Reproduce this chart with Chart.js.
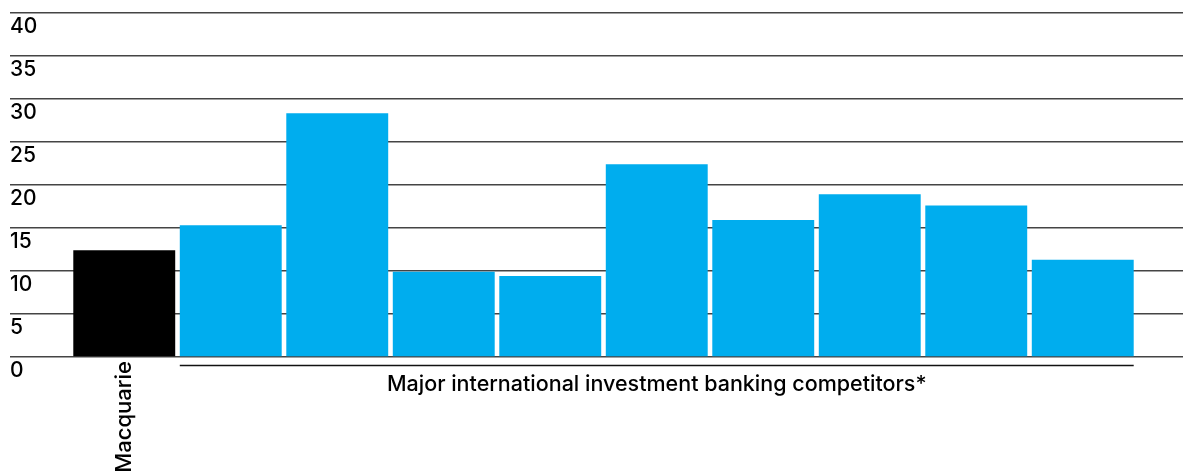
<!DOCTYPE html>
<html>
<head>
<meta charset="utf-8">
<script src="https://cdn.jsdelivr.net/npm/chart.js@4/dist/chart.umd.min.js"></script>
<style>
  html, body { margin: 0; padding: 0; background: #fff; }
  #wrap { width: 1183px; height: 473px; }
</style>
</head>
<body>
<div id="wrap"><canvas id="chart"></canvas></div>
<script>
// ===== DATA =====
const categories = ['Macquarie', '', '', '', '', '', '', '', '', ''];
const values = [12.4, 15.3, 28.3, 9.9, 9.4, 22.4, 15.9, 18.9, 17.6, 11.3];
const groupLabel = 'Major international investment banking competitors*';
const yTicks = [0, 5, 10, 15, 20, 25, 30, 35, 40];

// ===== STYLE =====
const FONT = 'Inter, "Liberation Sans", Arial, sans-serif';
const GRID = '#444';
const BLUE = '#00adee';

// ===== GROUP BRACKET + LABEL =====
const groupPlugin = {
  id: 'group',
  afterDraw(chart) {
    const ctx = chart.ctx;
    const bars = chart.getDatasetMeta(0).data;
    const first = bars[1], last = bars[bars.length - 1];
    const x1 = first.x - first.width / 2;
    const x2 = last.x + last.width / 2;
    const y = chart.scales.y.getPixelForValue(0) + 8.5;
    ctx.save();
    ctx.strokeStyle = '#111';
    ctx.lineWidth = 1.3;
    ctx.beginPath();
    ctx.moveTo(x1, y);
    ctx.lineTo(x2, y);
    ctx.stroke();
    ctx.fillStyle = '#000';
    ctx.font = '500 21.5px ' + FONT;
    ctx.textAlign = 'center';
    ctx.textBaseline = 'top';
    ctx.fillText(groupLabel, (x1 + x2) / 2, y + 8);
    ctx.restore();
  }
};

new Chart(document.getElementById('chart'), {
  type: 'bar',
  data: {
    labels: categories,
    datasets: [{
      data: values,
      backgroundColor: values.map((v, i) => i === 0 ? '#000000' : BLUE),
      borderWidth: 0,
      barPercentage: 0.957,
      categoryPercentage: 1
    }]
  },
  options: {
    responsive: true,
    maintainAspectRatio: false,
    animation: false,
    layout: { padding: { left: 10, right: 0, top: 12, bottom: 0 } },
    plugins: { legend: { display: false }, tooltip: { enabled: false } },
    scales: {
      x: {
        grid: { display: false, drawTicks: false },
        border: { display: false },
        ticks: {
          color: '#000',
          font: { family: FONT, size: 22, weight: 500 },
          minRotation: 90,
          maxRotation: 90,
          padding: 4,
          autoSkip: false
        },
        afterFit(scale) { scale.height = 116; }
      },
      y: {
        min: 0,
        max: 40,
        afterBuildTicks(scale) { scale.ticks = yTicks.map(v => ({ value: v })); },
        grid: { color: GRID, lineWidth: 1.5, tickLength: 61, drawTicks: true },
        border: { display: false },
        ticks: {
          color: '#000',
          font: { family: FONT, size: 21, weight: 500 },
          crossAlign: 'far',
          labelOffset: 14,
          padding: 0
        },
        afterFit(scale) { scale.width = 61; }
      },
      y2: {
        position: 'right',
        min: 0,
        max: 40,
        afterBuildTicks(scale) { scale.ticks = yTicks.map(v => ({ value: v })); },
        grid: { color: GRID, lineWidth: 1.5, tickLength: 47, drawOnChartArea: false },
        border: { display: false },
        ticks: { display: false },
        afterFit(scale) { scale.width = 47; }
      }
    }
  },
  plugins: [groupPlugin]
});
</script>
</body>
</html>
